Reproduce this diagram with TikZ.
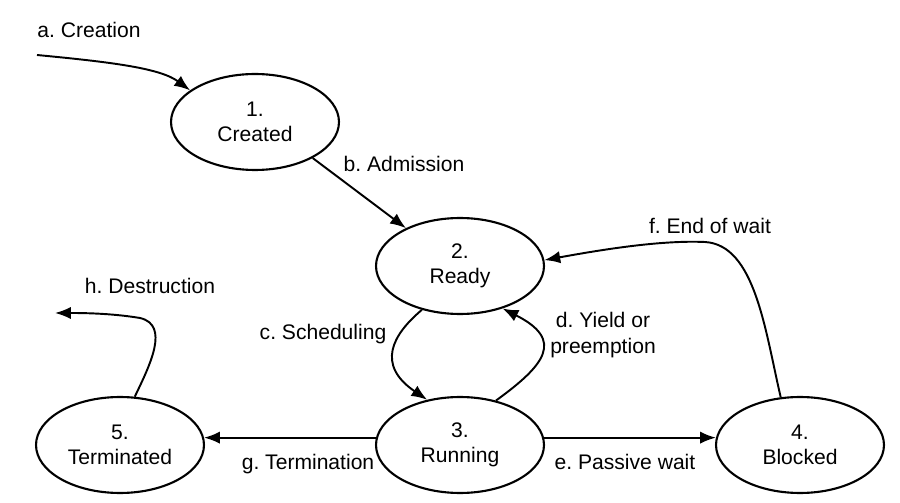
\documentclass[tikz,border=0pt]{standalone}
\usepackage{fontspec}
\setmainfont{Liberation Sans}
\usetikzlibrary{shapes.geometric,arrows.meta}

\begin{document}
\begin{tikzpicture}[x=0.02cm, y=-0.02cm,
		font=\fontsize{12}{14.5}\selectfont\frenchspacing,
		state/.style={ellipse, draw, line width=1.2pt, minimum width=3.36cm, minimum height=1.92cm, align=center, inner sep=0pt},
		trans/.style={-{Latex[length=9pt, width=7pt]}, line width=1.1pt}]
		\useasboundingbox (0,0) rectangle (900,503);

		% Draw states
		\node[state] (created) at (255,122) {1.\\Created};
		\node[state] (ready) at (460,266) {2.\\Ready};
		\node[state] (running) at (460,445) {3.\\Running};
		\node[state] (blocked) at (800,445) {4.\\Blocked};
		\node[state] (terminated) at (120,445) {5.\\Terminated};

		\coordinate (creation) at (37,55);
		\coordinate (destroyed) at (55,313);

		% Draw transitions
		\draw[trans] (creation) .. controls (110,62) and (160,68) .. (created.154);
		\draw[trans] (created.-32) -- (ready.145);
		\draw[trans] (ready.229) .. controls (392,335) and (376,365) .. (running.126);
		\draw[trans] (running.51) .. controls (545,365) and (565,340) .. (ready.-45);
		\draw[trans] (running.5) -- (blocked.175);
		\draw[trans] (blocked.112) .. controls (765,330) and (755,245) .. (705,242) .. controls (660,240) and (600,250) .. (ready.4);
		\draw[trans] (running.175) -- (terminated.5);
		\draw[trans] (terminated.73) .. controls (150,365) and (170,325) .. (140,318) .. controls (110,313) and (80,313) .. (destroyed);

		% Labels
		\node (la) at (89,30) {a. Creation};
		\node (lb) at (404,164) {b. Admission};
		\node (lc) at (323,334) {c. Scheduling};
		\node[align=center] (ld) at (603,335) {d. Yield or\\preemption};
		\node (le) at (625,462) {e. Passive wait};
		\node (lf) at (710,226) {f. End of wait};
		\node (lg) at (308,464) {g. Termination};
		\node (lh) at (150,286) {h. Destruction};
	\end{tikzpicture}
\end{document}
